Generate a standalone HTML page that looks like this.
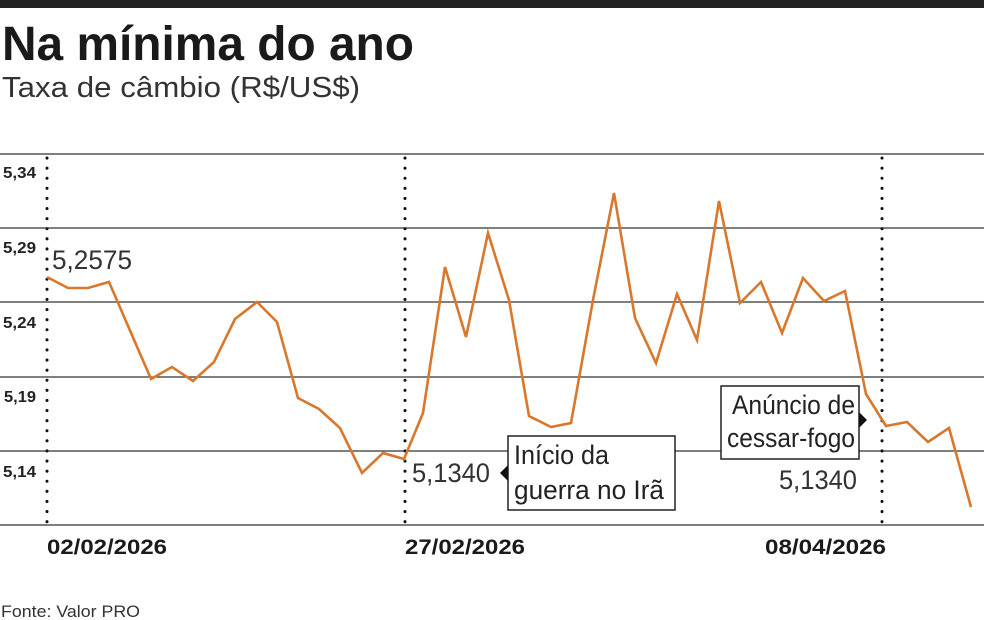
<!DOCTYPE html>
<html><head><meta charset="utf-8"><style>
body{margin:0;background:#fff;width:984px;height:620px;overflow:hidden;font-family:"Liberation Sans",sans-serif;}
</style></head><body>
<svg width="984" height="620" xmlns="http://www.w3.org/2000/svg" style="position:absolute;left:0;top:0" font-family="Liberation Sans, sans-serif">
<rect x="0" y="0" width="984" height="8" fill="#222"/>
<text x="2" y="60" font-weight="bold" font-size="48" fill="#1a1a1a" textLength="412" lengthAdjust="spacingAndGlyphs">Na mínima do ano</text>
<text x="2" y="97" font-size="29" fill="#333" textLength="358" lengthAdjust="spacingAndGlyphs">Taxa de câmbio (R$/US$)</text>
<g stroke="#333" stroke-width="1.3">
<line x1="0" y1="154" x2="984" y2="154"/>
<line x1="0" y1="228" x2="984" y2="228"/>
<line x1="0" y1="302" x2="984" y2="302"/>
<line x1="0" y1="377" x2="984" y2="377"/>
<line x1="0" y1="451" x2="984" y2="451"/>
<line x1="0" y1="525" x2="984" y2="525"/>
</g>
<g stroke="#111" stroke-width="3" stroke-dasharray="0.1 10" stroke-linecap="round">
<line x1="47" y1="158" x2="47" y2="522"/>
<line x1="405" y1="158" x2="405" y2="522"/>
<line x1="882" y1="158" x2="882" y2="522"/>
</g>
<g font-weight="bold" font-size="16" fill="#222">
<text x="3" y="178" textLength="33" lengthAdjust="spacingAndGlyphs">5,34</text><text x="3" y="253" textLength="33" lengthAdjust="spacingAndGlyphs">5,29</text><text x="3" y="328" textLength="33" lengthAdjust="spacingAndGlyphs">5,24</text><text x="4" y="402" textLength="32" lengthAdjust="spacingAndGlyphs">5,19</text><text x="3" y="477" textLength="33" lengthAdjust="spacingAndGlyphs">5,14</text>
</g>
<g font-weight="bold" font-size="21" fill="#1a1a1a">
<text x="47" y="554" textLength="120" lengthAdjust="spacingAndGlyphs">02/02/2026</text><text x="405" y="554" textLength="120" lengthAdjust="spacingAndGlyphs">27/02/2026</text><text x="765" y="554" textLength="121" lengthAdjust="spacingAndGlyphs">08/04/2026</text>
</g>
<polyline fill="none" stroke="#d9782d" stroke-width="2.6" points="47,277 68,288 88,288 109,282 151,379 172,367 193,381 214,362 235,319 257,302 277,322 298,398 319,409 340,428 362,473 383,453 404,459 423,413 445,267 466,337 488,233 509,300 529,416 551,427 571,423 593,300 614,193 635,318 656,363 677,294 697,340 719,201 740,303 761,282 782,333 803,278 824,301 845,291 866,394 886,426 907,422 928,442 949,428 971,507"/>
<g font-size="27" fill="#333">
<text x="52" y="269" textLength="80" lengthAdjust="spacingAndGlyphs">5,2575</text>
<text x="412" y="482" textLength="78" lengthAdjust="spacingAndGlyphs">5,1340</text>
<text x="779" y="489" textLength="78" lengthAdjust="spacingAndGlyphs">5,1340</text>
</g>
<rect x="508" y="436" width="167" height="74" fill="#fff" stroke="#222" stroke-width="1.5"/>
<polygon points="500,473 508,465 508,481" fill="#111"/>
<g font-size="27" fill="#222">
<text x="514" y="464" textLength="95" lengthAdjust="spacingAndGlyphs">Início da</text>
<text x="514" y="499" textLength="150" lengthAdjust="spacingAndGlyphs">guerra no Irã</text>
</g>
<rect x="721" y="386" width="138" height="73" fill="#fff" stroke="#222" stroke-width="1.5"/>
<polygon points="867,420 859,412 859,428" fill="#111"/>
<g font-size="27" fill="#222">
<text x="732" y="414" textLength="123" lengthAdjust="spacingAndGlyphs">Anúncio de</text>
<text x="727" y="447" textLength="128" lengthAdjust="spacingAndGlyphs">cessar-fogo</text>
</g>
<text x="1" y="617" font-size="17" fill="#333" textLength="139" lengthAdjust="spacingAndGlyphs">Fonte: Valor PRO</text>
</svg>
</body></html>
